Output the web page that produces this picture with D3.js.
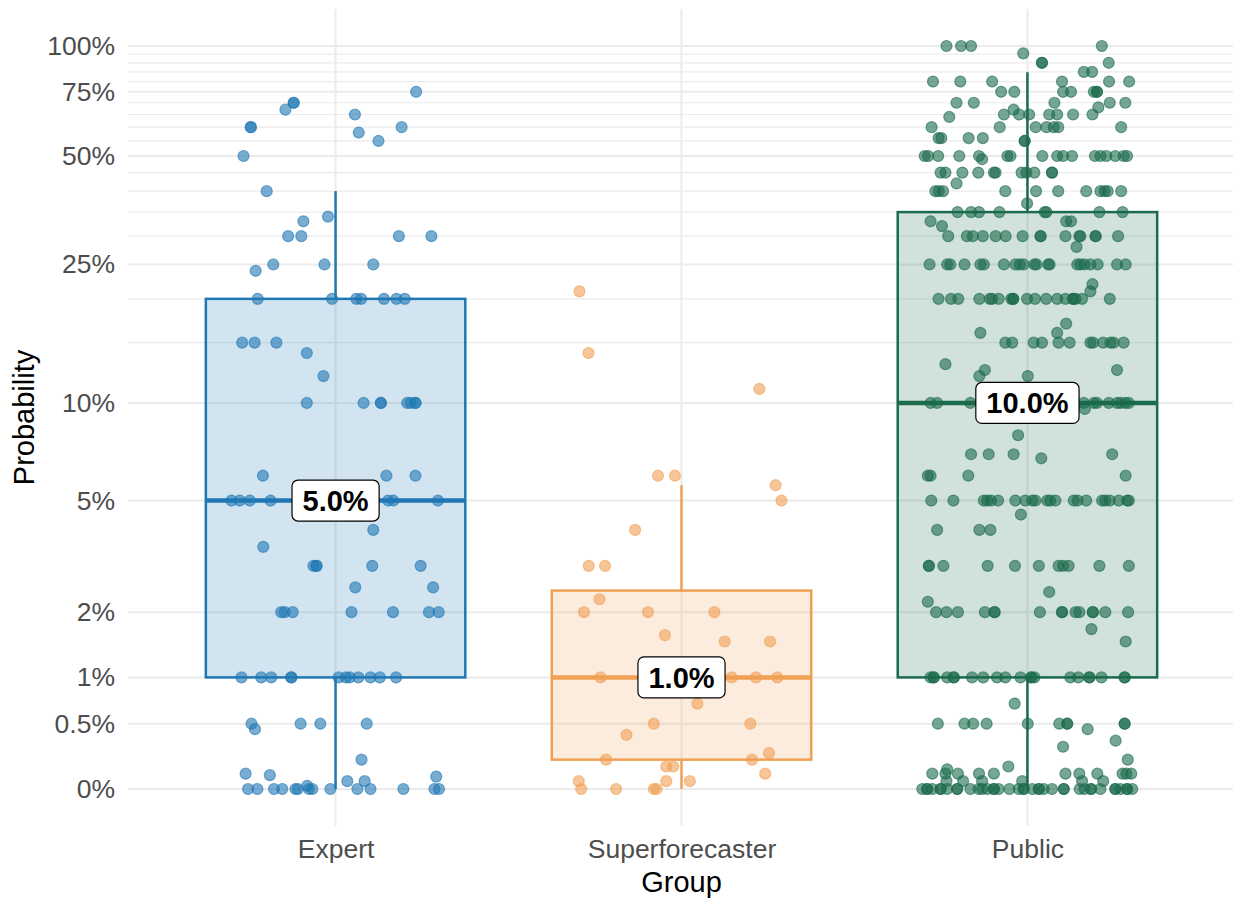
<!DOCTYPE html>
<html>
<head>
<meta charset="utf-8">
<script src="https://cdn.jsdelivr.net/npm/d3@7"></script>
<style>
  body { margin: 0; background: #fff; }
  svg { display: block; font-family: "Liberation Sans", Arial, sans-serif; }
</style>
</head>
<body>
<div id="chart"></div>
<script>
// Groups and box statistics
const groups = ["Expert", "Superforecaster", "Public"];
const colors = ["#1f78b4", "#f0a055", "#1b6b4d"];
const q1 = [0.01, 0.002, 0.01];
const medians = [0.05, 0.01, 0.10];
const q3 = [0.20, 0.0243, 0.35];
const whiskerLo = [0, 0, 0];
const whiskerHi = [0.40, 0.056, 0.848];

// Axis breaks
const majorBreaks = [0, 0.005, 0.01, 0.02, 0.05, 0.1, 0.25, 0.5, 0.75, 1];
const minorBreaks = [0.15, 0.2, 0.3, 0.35, 0.4, 0.45, 0.55, 0.6, 0.65, 0.7, 0.8, 0.85, 0.9, 0.95];

// Individual answers: [probability, [jitter of each point, % of a category step]]
const expertPoints = [
  [0.75, [23.3]], [0.70, [-12.1, -12.1]], [0.67, [-14.5]], [0.65, [5.6]],
  [0.60, [-24.5, -24.5, 19.1]], [0.58, [6.7]], [0.55, [12.4]], [0.50, [-26.6]],
  [0.40, [-19.9]], [0.34, [-2.2]], [0.33, [-9.3]], [0.30, [-13.7, -9.9, 18.3, 27.7]],
  [0.25, [-18.0, -3.2, 10.9]], [0.24, [-23.1]],
  [0.20, [-22.5, -1.0, 6.0, 7.4, 14.0, 17.6, 20.0]],
  [0.15, [-27.0, -23.4, -17.1]], [0.14, [-8.3]], [0.12, [-3.5]],
  [0.10, [-8.3, 8.1, 13.1, 13.1, 20.7, 21.7, 23.1, 23.1]],
  [0.06, [-21.0, 14.7, 23.1]],
  [0.05, [-30.1, -27.7, -24.8, -18.8, 15.2, 16.7, 29.6]],
  [0.04, [10.9]], [0.035, [-20.9]], [0.03, [-6.4, -5.5, -5.5, 10.6, 24.6]],
  [0.025, [5.7, 28.2]], [0.02, [-15.7, -14.7, -12.4, 4.6, 16.6, 27.0, 29.8]],
  [0.01, [-27.2, -21.5, -18.6, -12.8, -12.8, 0.9, 3.0, 4.1, 6.6, 10.1, 12.8, 17.5]],
  [0.005, [-24.3, -10.1, -4.4, 9.0]], [0.0045, [-23.3]], [0.002, [7.5]],
  [0.001, [-26.0]], [0.0009, [-19.0]], [0.0008, [29.1]], [0.0005, [3.4, 8.4]],
  [0.0002, [-8.2]],
  [0, [-25.3, -22.6, -17.8, -15.4, -11.6, -10.9, -7.7, -6.7, -1.5, 6.3, 10.1, 19.6, 28.6, 29.9]]
];

const superPoints = [
  [0.21, [-29.5]], [0.14, [-26.9]], [0.11, [22.5]], [0.06, [-6.8, -1.9]],
  [0.056, [27.2]], [0.05, [28.9]], [0.04, [-13.4]], [0.03, [-26.8, -22.1]],
  [0.0225, [-23.7]], [0.02, [-28.2, -9.7, 9.5]], [0.016, [-4.8]], [0.015, [12.5, 25.6]],
  [0.01, [-23.4, 14.5, 21.5, 27.7]], [0.007, [4.6]], [0.005, [-8.0, 19.9]],
  [0.004, [-15.9]], [0.0025, [25.3]], [0.002, [-21.8, 20.4]], [0.0015, [-4.4, -2.4]],
  [0.001, [24.2]], [0.0005, [-29.7, -4.4, 2.4]], [0, [-29.0, -18.9, -8.0, -7.2]]
];

const publicPoints = [
  [1.00, [-23.4, -19.2, -16.3, 21.5]], [0.955, [-1.2]], [0.90, [4.2, 4.2, 23.5]],
  [0.85, [16.3, 18.7]], [0.80, [-27.3, -19.4, -10.2, 10.0, 23.6, 29.4]],
  [0.75, [-7.6, -3.8, 10.3, 12.6, 19.2, 20.1, 20.1]],
  [0.70, [-20.5, -15.5, 7.8, 23.8, 28.3]], [0.68, [20.5]], [0.67, [-4.0]],
  [0.65, [-6.8, -2.4, 0.5, 6.3, 8.6, 13.2, 18.8]], [0.64, [-22.6]],
  [0.60, [-27.7, -8.0, 2.4, 5.5, 7.6, 8.9, 27.1]],
  [0.56, [-25.7, -24.9, -17.0, -12.9]], [0.55, [-0.8, -0.8]],
  [0.50, [-29.7, -28.7, -25.8, -19.7, -14.0, -5.8, -4.9, 4.3, 8.6, 10.3, 12.9, 19.5, 21.1, 22.8, 25.4, 27.8, 28.8]],
  [0.49, [-13.1]],
  [0.45, [-25.1, -23.7, -18.8, -14.2, -9.7, -9.2, -1.7, -0.3, 2.0, 7.1, 7.1]],
  [0.42, [-20.5]],
  [0.40, [-26.6, -25.6, -24.4, -6.4, 2.5, 8.9, 17.0, 21.1, 22.3, 23.2, 27.1]],
  [0.37, [-0.1]], [0.35, [-20.2, -16.3, -14.0, -8.1, 5.0, 5.5, 20.8, 27.5]],
  [0.33, [-28.0, 11.2, 12.6]], [0.32, [-24.7]],
  [0.30, [-22.9, -17.5, -15.8, -12.9, -9.2, -6.3, -1.4, 3.8, 3.8, 11.0, 15.0, 15.3, 19.7, 19.7, 26.2]],
  [0.28, [14.2]],
  [0.25, [-28.3, -23.2, -22.3, -18.2, -13.6, -12.6, -6.8, -3.5, -2.2, -1.1, 2.0, 2.6, 6.0, 6.4, 14.4, 15.3, 16.5, 18.2, 20.3, 25.9, 28.4]],
  [0.22, [18.8]], [0.21, [18.2]],
  [0.20, [-25.7, -22.1, -20.0, -13.9, -10.9, -10.2, -8.3, -4.7, -4.1, -4.1, -0.1, 2.2, 5.4, 8.6, 11.0, 13.2, 13.2, 13.9, 15.8, 23.8]],
  [0.17, [11.2]], [0.16, [-13.6, 8.6]],
  [0.15, [-6.4, -4.4, 1.8, 4.2, 9.0, 12.2, 18.2, 19.0, 21.9, 24.0, 24.9, 27.8]],
  [0.13, [-23.7]], [0.125, [-12.3, 25.9]], [0.12, [-13.9, 0.1]],
  [0.10, [-28.0, -26.1, -16.5, 16.3, 19.2, 20.1, 23.5, 25.9, 26.9, 28.3, 29.3]],
  [0.096, [16.6]], [0.08, [-2.7]], [0.07, [-16.3, -11.2, -4.0, 24.5]], [0.068, [4.0]],
  [0.06, [-28.8, -28.0, -17.1, 28.4]],
  [0.05, [-27.8, -21.4, -12.6, -11.6, -10.5, -8.5, -3.5, -0.6, 1.4, 2.3, 5.7, 6.6, 8.1, 13.4, 14.5, 17.0, 21.6, 22.5, 23.8, 26.4, 28.8, 29.3]],
  [0.045, [-1.9]], [0.04, [-26.1, -13.9, -10.7]],
  [0.03, [-28.5, -28.5, -24.3, -11.5, -3.6, 3.3, 9.0, 10.3, 11.9, 20.8, 29.3]],
  [0.024, [6.3]], [0.022, [-28.8]],
  [0.02, [-26.4, -23.4, -20.1, -12.3, -9.5, -9.5, 3.6, 10.0, 10.0, 13.9, 15.0, 18.9, 18.9, 22.5, 29.1]],
  [0.017, [18.5]], [0.015, [28.4]],
  [0.01, [-28.0, -27.1, -27.1, -23.2, -21.3, -21.3, -16.0, -12.8, -8.8, -6.4, -2.0, 1.1, 1.1, 2.0, 12.4, 14.7, 17.9, 17.9, 21.4, 28.1, 28.1]],
  [0.007, [-3.7]],
  [0.005, [-25.9, -18.2, -15.7, -11.8, 0.1, 9.2, 11.5, 11.5, 28.1, 28.1]],
  [0.0045, [17.4]], [0.0035, [25.5]], [0.003, [10.3]], [0.002, [29.0]],
  [0.0015, [-5.5]], [0.0013, [-23.2]],
  [0.001, [-27.5, -23.7, -20.1, -14.0, -9.7, 11.0, 15.0, 20.2, 27.5, 28.6, 30.0]],
  [0.0005, [-23.4, -18.6, -13.1, -1.5, 15.8, 21.9]],
  [0, [-30.4, -29.0, -29.0, -27.5, -25.1, -25.1, -23.2, -20.3, -20.3, -16.5, -14.1, -13.1, -11.6, -9.7, -9.7, -8.3, -5.2, -2.5, -1.1, -1.1, 1.4, 3.3, 3.3, 4.7, 7.1, 10.5, 10.5, 15.1, 16.5, 18.4, 18.4, 21.1, 25.4, 25.4, 26.9, 28.8, 28.8, 30.3]]
];

const pointSets = [expertPoints, superPoints, publicPoints];

// Dimensions
const width = 1233;
const height = 901;
const panel = { left: 128, right: 1235, top: 9, bottom: 826 };
const offset = 0.01; // log10(p + 0.01) transform

const svg = d3.select("#chart").append("svg")
  .attr("width", width)
  .attr("height", height);

// Scales
const x = d3.scalePoint().domain(groups).range([panel.left, panel.right]).padding(0.6);
const step = x.step();
const jitter = d3.scaleLinear().domain([-50, 50]).range([-step / 2, step / 2]);

const y = d3.scaleLog().domain([offset, 1 + offset]).range([789, 46]);
const Y = (v) => y(v + offset);
const pct = d3.format(".1~%");

// Gridlines
const grid = svg.append("g");
grid.selectAll(".minor").data(minorBreaks).enter().append("line")
  .attr("x1", panel.left).attr("x2", width)
  .attr("y1", (d) => Y(d)).attr("y2", (d) => Y(d))
  .attr("stroke", "#ebebeb").attr("stroke-width", 1.2);
grid.selectAll(".major").data(majorBreaks).enter().append("line")
  .attr("x1", panel.left).attr("x2", width)
  .attr("y1", (d) => Y(d)).attr("y2", (d) => Y(d))
  .attr("stroke", "#ebebeb").attr("stroke-width", 2);
grid.selectAll(".vert").data(groups).enter().append("line")
  .attr("x1", (d) => x(d)).attr("x2", (d) => x(d))
  .attr("y1", panel.top).attr("y2", panel.bottom)
  .attr("stroke", "#ebebeb").attr("stroke-width", 2);

// Y axis
svg.append("g")
  .attr("transform", `translate(${panel.left},0)`)
  .call(d3.axisLeft(y)
    .tickValues(majorBreaks.map((v) => v + offset))
    .tickFormat((d) => pct(d - offset))
    .tickSize(0).tickPadding(13))
  .call((g) => g.select(".domain").remove())
  .selectAll("text")
  .attr("fill", "#4d4d4d")
  .style("font-size", "26.5px")
  .style("font-family", "'Liberation Sans', Arial, sans-serif");

// X axis
svg.append("g")
  .attr("transform", `translate(0,${panel.bottom})`)
  .call(d3.axisBottom(x).tickSize(0).tickPadding(13))
  .call((g) => g.select(".domain").remove())
  .selectAll("text")
  .attr("fill", "#4d4d4d")
  .style("font-size", "26.5px")
  .style("font-family", "'Liberation Sans', Arial, sans-serif");

// Axis titles
svg.append("text")
  .attr("x", (panel.left + panel.right) / 2)
  .attr("y", 892)
  .attr("text-anchor", "middle")
  .style("font-size", "29px")
  .text("Group");

svg.append("text")
  .attr("transform", `translate(34,${(panel.top + panel.bottom) / 2}) rotate(-90)`)
  .attr("text-anchor", "middle")
  .style("font-size", "29px")
  .text("Probability");

// Boxplots
const boxW = step * 0.75;
groups.forEach((g, i) => {
  const cx = x(g);
  const box = svg.append("g");
  box.append("line")
    .attr("x1", cx).attr("x2", cx)
    .attr("y1", Y(q3[i])).attr("y2", Y(whiskerHi[i]))
    .attr("stroke", colors[i]).attr("stroke-width", 2.5);
  box.append("line")
    .attr("x1", cx).attr("x2", cx)
    .attr("y1", Y(q1[i])).attr("y2", Y(whiskerLo[i]))
    .attr("stroke", colors[i]).attr("stroke-width", 2.5);
  box.append("rect")
    .attr("x", cx - boxW / 2)
    .attr("y", Y(q3[i]))
    .attr("width", boxW)
    .attr("height", Y(q1[i]) - Y(q3[i]))
    .attr("fill", colors[i]).attr("fill-opacity", 0.2)
    .attr("stroke", colors[i]).attr("stroke-width", 2.5);
  box.append("line")
    .attr("x1", cx - boxW / 2).attr("x2", cx + boxW / 2)
    .attr("y1", Y(medians[i])).attr("y2", Y(medians[i]))
    .attr("stroke", colors[i]).attr("stroke-width", 4.5);
});

// Jittered points
groups.forEach((g, i) => {
  const pts = pointSets[i].flatMap(([v, js]) => js.map((j) => ({ v, j })));
  svg.append("g").selectAll("circle")
    .data(pts)
    .enter()
    .append("circle")
    .attr("cx", (d) => x(g) + jitter(d.j))
    .attr("cy", (d) => Y(d.v))
    .attr("r", 5.5)
    .attr("fill", colors[i]).attr("fill-opacity", 0.6)
    .attr("stroke", colors[i]).attr("stroke-opacity", 0.6)
    .attr("stroke-width", 1.2);
});

// Median labels
groups.forEach((g, i) => {
  const lab = svg.append("g")
    .attr("transform", `translate(${x(g)},${Y(medians[i])})`);
  const rect = lab.append("rect");
  const txt = lab.append("text")
    .attr("text-anchor", "middle")
    .attr("dy", "0.36em")
    .style("font-size", "29px")
    .style("font-weight", "bold")
    .text(d3.format(".1%")(medians[i]));
  const w = txt.node().getComputedTextLength() + 21;
  rect.attr("x", -w / 2).attr("y", -20.5)
    .attr("width", w).attr("height", 41)
    .attr("rx", 6)
    .attr("fill", "#fff")
    .attr("stroke", "#000").attr("stroke-width", 1.2);
});
</script>
</body>
</html>
